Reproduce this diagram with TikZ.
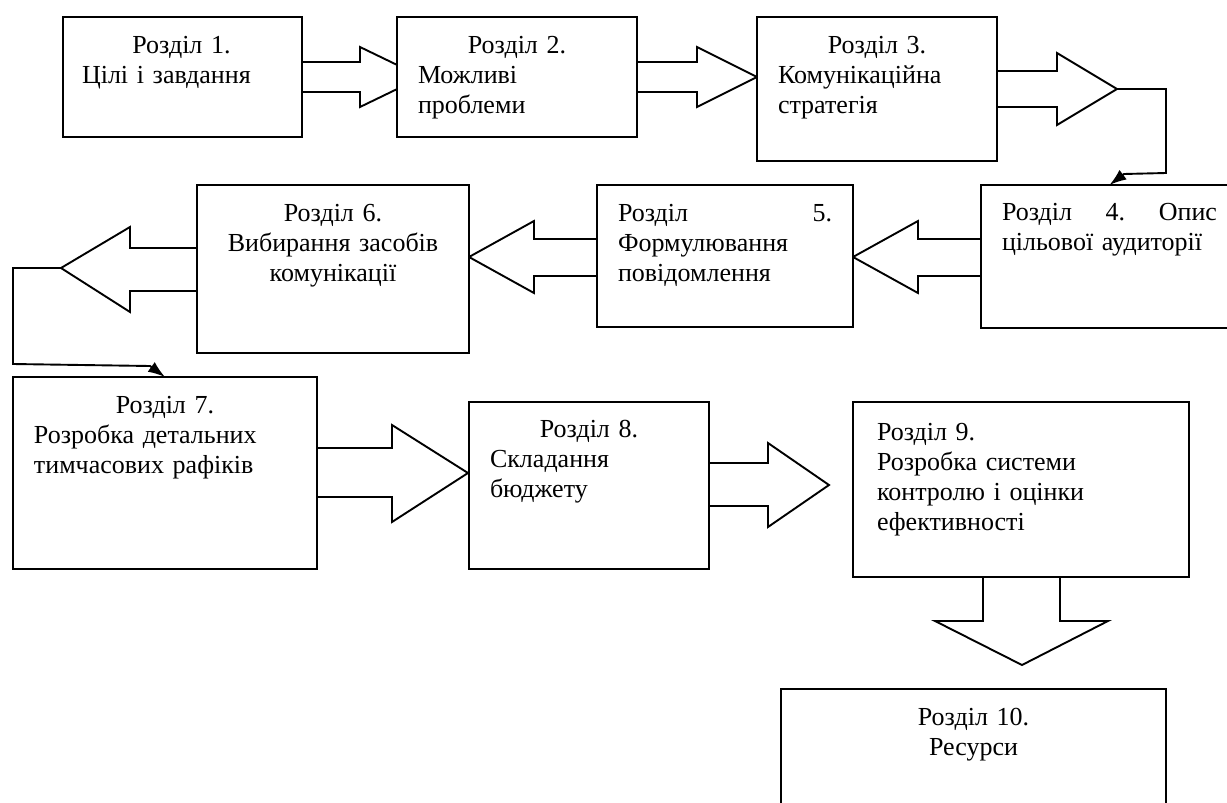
\documentclass[tikz,border=0pt]{standalone}
\usepackage{fontspec}
\setmainfont{Liberation Serif}
\usetikzlibrary{arrows.meta}

\newcommand{\midline}[1]{\hfill #1\hfill\null}

\tikzset{
  box/.style={draw, fill=white, line width=1.9pt, inner sep=0pt, outer sep=0pt, anchor=north west},
  txt/.style={inner sep=0pt, outer sep=0pt, anchor=base west, align=left, font=\fontsize{26}{30}\selectfont},
  barrow/.style={draw, fill=white, line width=1.9pt, line join=miter},
  conn/.style={line width=1.9pt, -{Latex[length=17pt, width=12pt]}}
}

\begin{document}
\begin{tikzpicture}[x=1pt, y=-1pt]
    \useasboundingbox (0,0) rectangle (1227,803);
    \clip (0,0) rectangle (1227,803);

    % --- Block arrows (boxes are drawn over their bases) ---
    \coordinate (a3tip) at (1117,89);
    \coordinate (a6tip) at (61,268);
    \draw[barrow] (302,62) -- (360,62) -- (360,47) -- (422,77) -- (360,107) -- (360,92) -- (302,92) -- cycle;
    \draw[barrow] (637,62) -- (697,62) -- (697,47) -- (757,77) -- (697,107) -- (697,92) -- (637,92) -- cycle;
    \draw[barrow] (997,71) -- (1057,71) -- (1057,53) -- (a3tip) -- (1057,125) -- (1057,107) -- (997,107) -- cycle;
    \draw[barrow] (981,239) -- (918,239) -- (918,221) -- (853,257) -- (918,293) -- (918,276) -- (981,276) -- cycle;
    \draw[barrow] (597,239) -- (534,239) -- (534,221) -- (469,257) -- (534,293) -- (534,276) -- (597,276) -- cycle;
    \draw[barrow] (197,248) -- (130,248) -- (130,227) -- (a6tip) -- (130,312) -- (130,291) -- (197,291) -- cycle;
    \draw[barrow] (317,448) -- (392,448) -- (392,425) -- (468,473) -- (392,522) -- (392,497) -- (317,497) -- cycle;
    \draw[barrow] (709,463) -- (768,463) -- (768,443) -- (829,485) -- (768,527) -- (768,506) -- (709,506) -- cycle;
    \draw[barrow] (983,577) -- (983,621) -- (935,621) -- (1022,665) -- (1108,621) -- (1060,621) -- (1060,577) -- cycle;

    % --- Sections ---
    \node[box, minimum width=239pt, minimum height=120pt] (b1) at (63,17) {};
    \node[box, minimum width=240pt, minimum height=120pt] (b2) at (397,17) {};
    \node[box, minimum width=240pt, minimum height=144pt] (b3) at (757,17) {};
    \node[box, minimum width=257pt, minimum height=143pt] (b4) at (981,185) {};
    \node[box, minimum width=256pt, minimum height=142pt] (b5) at (597,185) {};
    \node[box, minimum width=272pt, minimum height=168pt] (b6) at (197,185) {};
    \node[box, minimum width=304pt, minimum height=192pt] (b7) at (13,377) {};
    \node[box, minimum width=240pt, minimum height=167pt] (b8) at (469,402) {};
    \node[box, minimum width=336pt, minimum height=175pt] (b9) at (853,402) {};
    \node[box, minimum width=385pt, minimum height=130pt] (b10) at (781,689) {};

    % Section texts
    \node[txt, text width=199pt] (t1) at (82,53) {\midline{Розділ 1.}\\Цілі і завдання};
    \node[txt, text width=198pt] (t2) at (418,53) {\midline{Розділ 2.}\\Можливі\\проблеми};
    \node[txt, text width=198pt] (t3) at (778,53) {\midline{Розділ 3.}\\Комунікаційна\\стратегія};
    \node[txt, text width=215pt] (t4) at (1002,220) {Розділ\hfill 4.\hfill Опис\\цільової аудиторії};
    \node[txt, text width=214pt] (t5) at (618,221) {Розділ\hfill 5.\\Формулювання\\повідомлення};
    \node[txt, text width=230pt, align=center] (t6) at (218,221) {Розділ 6.\\Вибирання засобів\\комунікації};
    \node[txt, text width=262pt] (t7) at (34,413) {\midline{Розділ 7.}\\Розробка детальних\\тимчасових рафіків};
    \node[txt, text width=198pt] (t8) at (490,437) {\midline{Розділ 8.}\\Складання\\бюджету};
    \node[txt, text width=291pt] (t9) at (877,440) {Розділ 9.\\Розробка системи\\контролю і оцінки\\ефективності};
    \node[txt, text width=343pt, align=center] (t10) at (802,725) {Розділ 10.\\Ресурси};

    % --- Thin connectors ---
    \draw[conn] (a3tip) -| (1166,173) -- (1124,174) -- (b4.north);
    \draw[conn] (a6tip) -| (13,364) -- (150,366) -- (b7.north);
\end{tikzpicture}
\end{document}
